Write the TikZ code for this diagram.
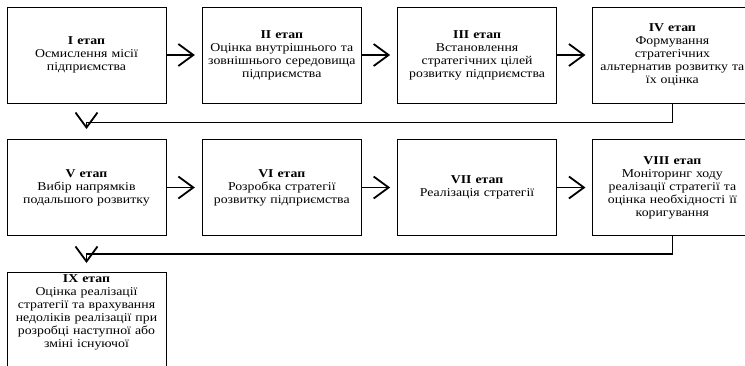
\documentclass[tikz,border=0pt]{standalone}
\usepackage{fontspec}
\setmainfont{Liberation Serif}[FakeStretch=1.15]
\usetikzlibrary{arrows.meta,positioning}

\begin{document}
\begin{tikzpicture}[x=1pt, y=1pt, node distance=195.3pt,
  stage/.style={rectangle, draw, line width=0.9pt, minimum width=159pt, minimum height=96pt,
    text width=157pt, align=center, inner xsep=1pt, inner ysep=2pt, font=\fontsize{12}{13}\selectfont},
  conn/.style={line width=1.8pt, -{Straight Barb[length=15pt,width=22pt]}}]

		\useasboundingbox (0,0) rectangle (745,-365);

		\node[stage] (s1) at (86.5,-55) {\textbf{I етап}\\Осмислення місії\\підприємства};
		\node[stage] (s2) [right of=s1] {\textbf{II етап}\\Оцінка внутрішнього та\\зовнішнього середовища\\підприємства};
		\node[stage] (s3) [right of=s2] {\textbf{III етап}\\Встановлення\\стратегічних цілей\\розвитку підприємства};
		\node[stage] (s4) [right of=s3] {\textbf{IV етап}\\Формування\\стратегічних\\альтернатив розвитку та\\їх оцінка};

		\node[stage] (s5) at (86.5,-187.5) {\textbf{V етап}\\Вибір напрямків\\подальшого розвитку};
		\node[stage] (s6) [right of=s5] {\textbf{VI етап}\\Розробка стратегії\\розвитку підприємства};
		\node[stage] (s7) [right of=s6] {\textbf{VII етап}\\Реалізація стратегії};
		\node[stage] (s8) [right of=s7] {\textbf{VIII етап}\\Моніторинг ходу\\реалізації стратегії та\\оцінка необхідності її\\коригування};

		\node[stage, anchor=north, text depth=100pt] (s9) at (86.5,-272) {\textbf{IX етап}\\Оцінка реалізації\\стратегії та врахування\\недоліків реалізації при\\розробці наступної або\\зміні існуючої};

		\coordinate (t5) at ([yshift=10pt]s5.north);
		\coordinate (t9) at ([yshift=9pt]s9.north);

		\path[conn, shorten >=7pt]
		(s1) edge (s2)
		(s2) edge (s3)
		(s3) edge (s4)
		(s5) edge (s6)
		(s6) edge (s7)
		(s7) edge (s8);

		\draw[conn] (s4.south) -- ++(0,-19) -| (t5);
		\draw[conn] (s8.south) -- ++(0,-18) -| (t9);

\end{tikzpicture}
\end{document}
